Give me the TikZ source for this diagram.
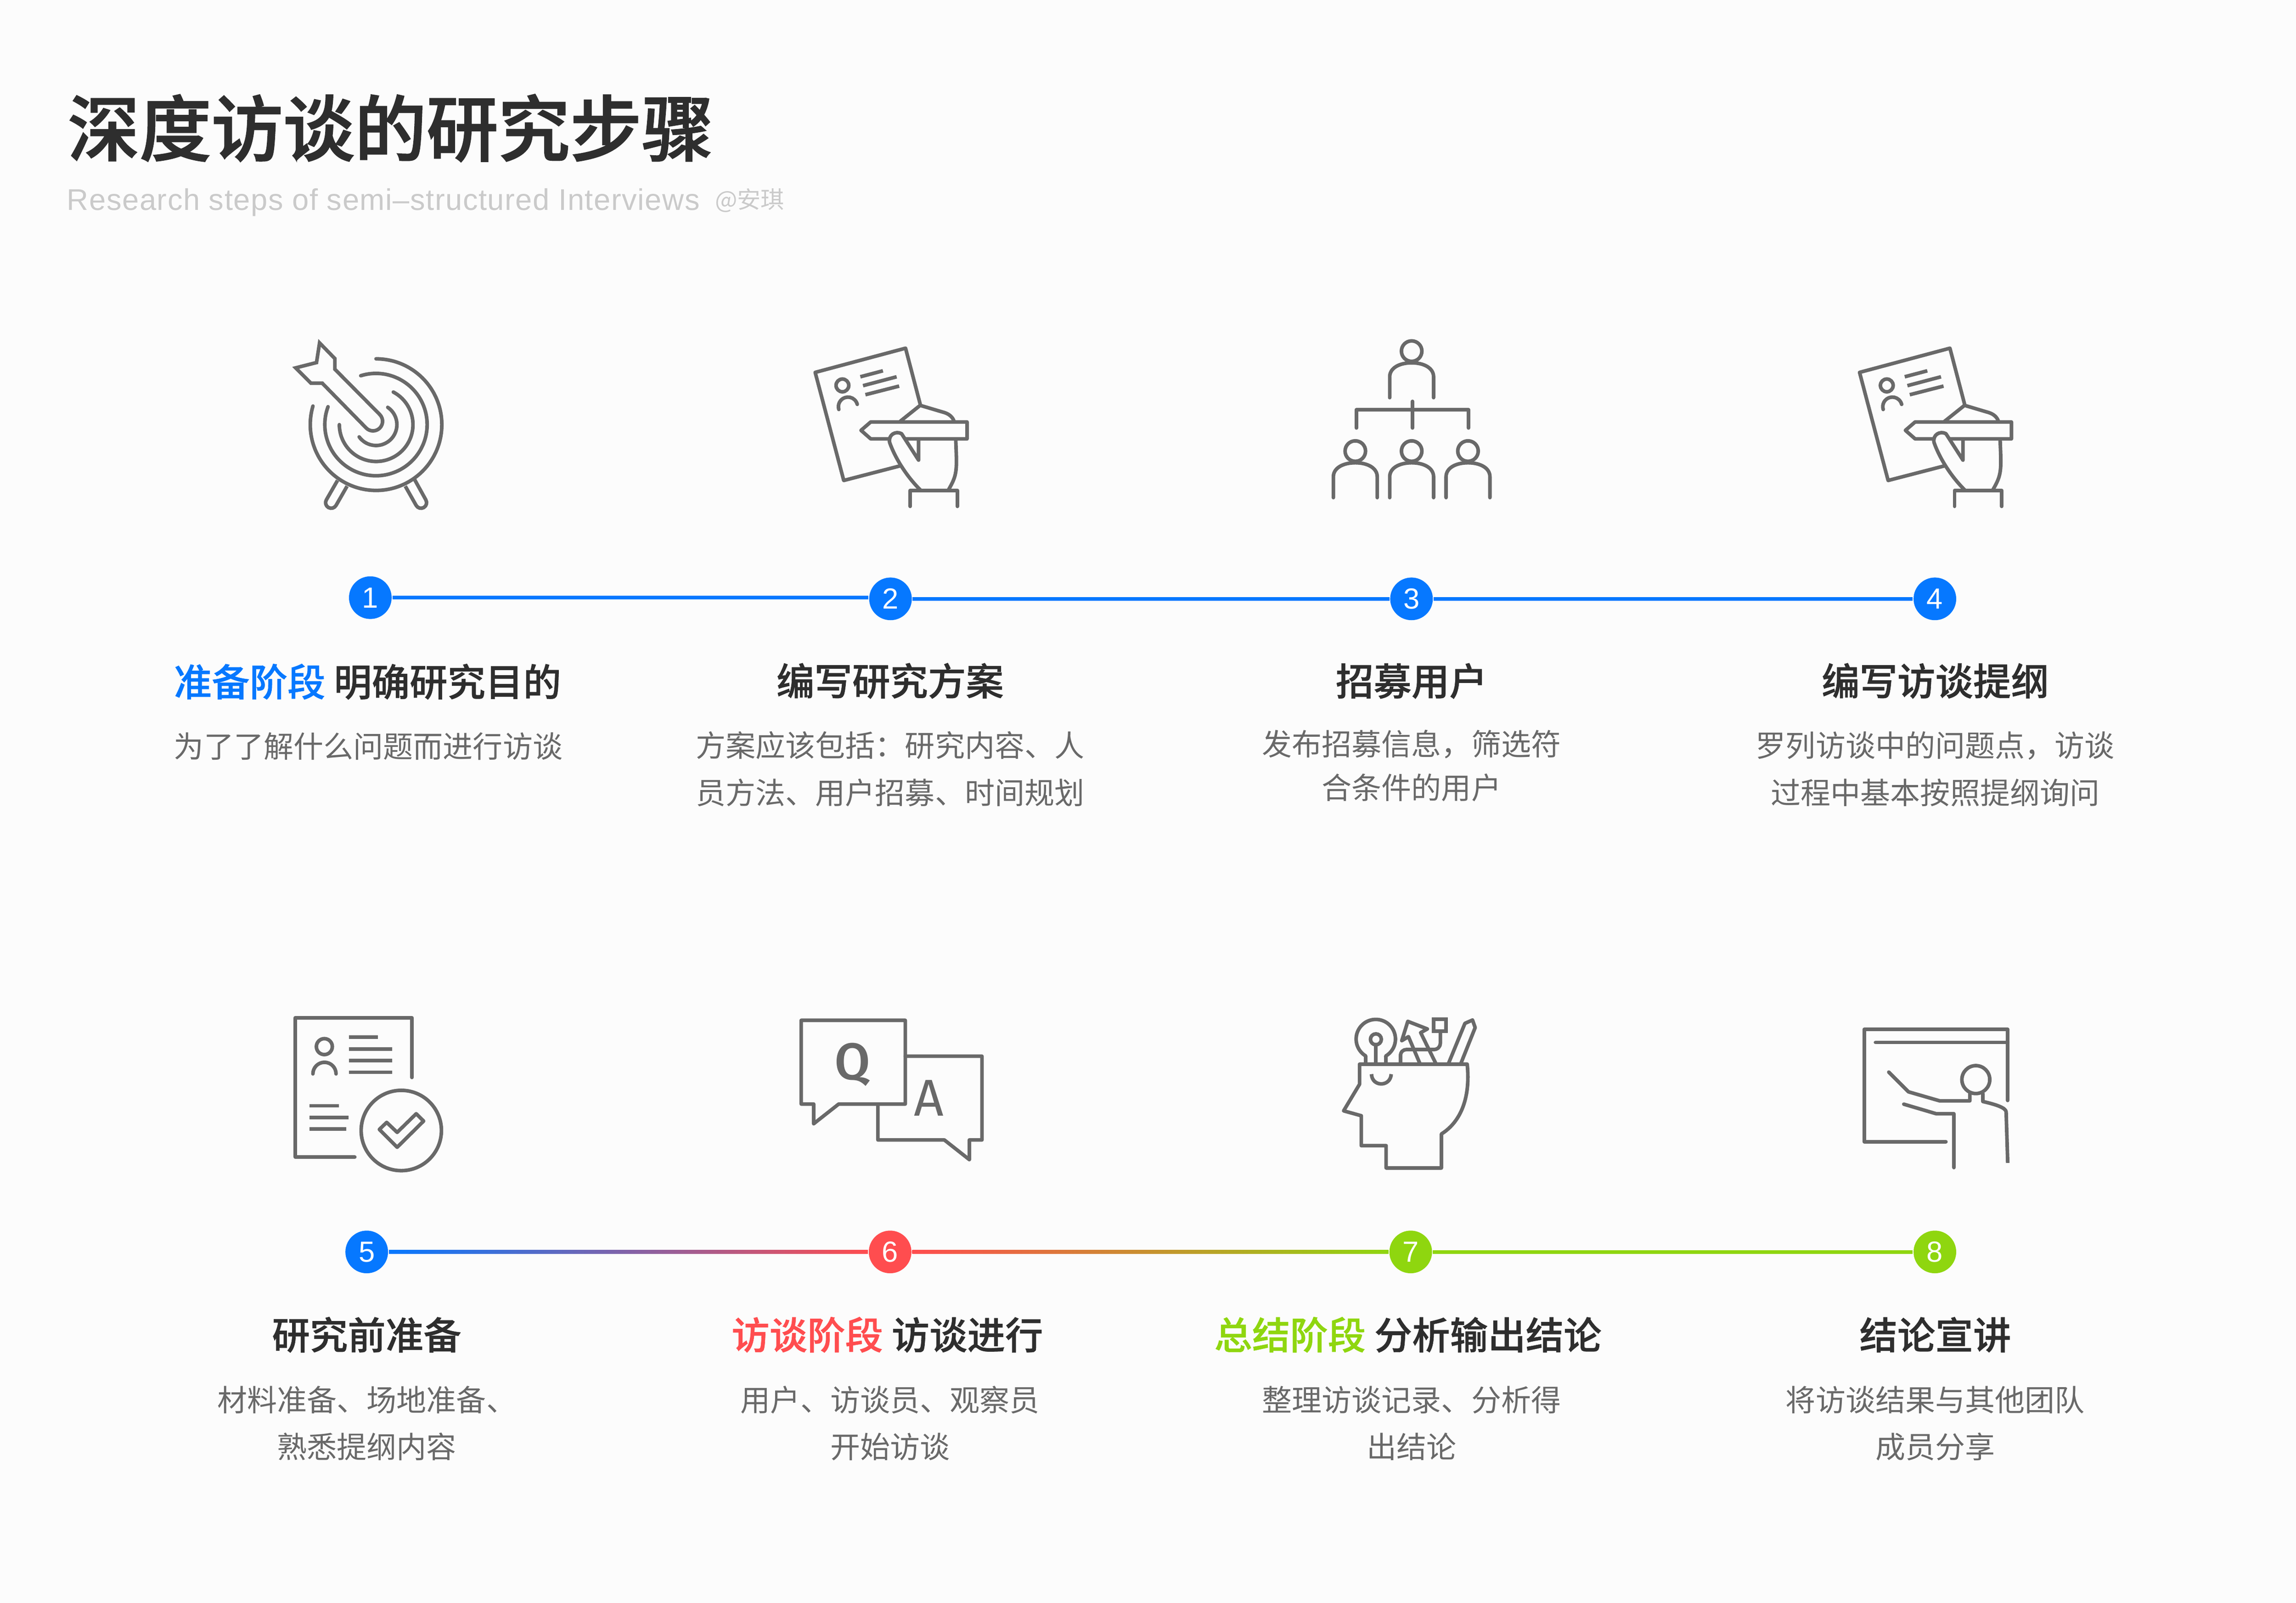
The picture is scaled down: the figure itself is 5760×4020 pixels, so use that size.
\documentclass[tikz,border=0pt]{standalone}
\usepackage{fontspec}
\usetikzlibrary{calc}
\setmainfont{Noto Sans CJK SC}
\newfontfamily\titlef{Noto Sans CJK SC Medium}[FakeBold=1.5]
\newfontfamily\headf{Noto Sans CJK SC Medium}[FakeBold=0.8]
\newfontfamily\numf{Liberation Sans}
\newfontfamily\subf{Liberation Sans}[LetterSpace=2.4]
\newfontfamily\qaf{Fira Sans Medium}
\newfontfamily\qafr{Fira Sans}
\newcommand{\fwcolon}{^^^^ff1a}
\newcommand{\fwcomma}{^^^^ff0c}
\definecolor{bgc}{HTML}{FCFCFC}
\definecolor{ink}{HTML}{696969}
\definecolor{dark}{HTML}{2E2E2E}
\definecolor{pale}{HTML}{CACACA}
\definecolor{acblue}{HTML}{0678FF}
\definecolor{acred}{HTML}{FF4D4F}
\definecolor{acgreen}{HTML}{8FD60F}
\tikzset{
  icon/.style={draw=ink,line width=.9pt,line join=round,line cap=round},
  bar/.style={draw=ink,line width=.9pt,line cap=butt},
  dot/.style={circle,inner sep=0pt,minimum size=10.7pt,text=white,font=\numf\fontsize{7.3}{7.3}\selectfont},
  heading/.style={anchor=base,inner sep=0pt,text=dark,font=\headf\fontsize{9.5}{9.5}\selectfont},
  bodytext/.style={anchor=base,inner sep=0pt,text=ink,font=\fontsize{7.5}{7.5}\selectfont},
  zoomed/.style={x=0.033333pt,y=-0.033333pt}
}
\newcommand{\docicon}[2]{%
\begin{scope}[shift={(#1,#2)},zoomed]
  \draw[icon] (835,1045) -- (410,1155) -- (195,342) -- (875,160) -- (985,580);
  \draw[icon] (400,440) circle[radius=48];
  \draw[icon] (373,621) arc[start angle=163,end angle=346,radius=72];
  \draw[bar] (535,375) -- (705,330) (555,442) -- (808,375) (573,510) -- (827,445);
  \draw[icon] (835,710) -- (985,590) -- (1170,645) .. controls (1215,660) and (1235,690) .. (1240,712);
  \draw[icon] (540,778) -- (613,715) -- (1338,715) -- (1338,842) -- (613,842) -- cycle;
  \fill[bgc] (757,868) .. controls (745,810) and (800,780) .. (845,803) -- (885,860) -- cycle;
  \draw[icon] (985,1225) .. controls (870,1110) and (790,970) .. (755,868) .. controls (745,810) and (800,780) .. (845,803) -- (973,1002) -- (973,855);
  \draw[icon] (1253,855) .. controls (1262,1080) and (1265,1110) .. (1200,1222);
  \draw[icon] (910,1350) -- (910,1230) -- (1265,1230) -- (1265,1350);
\end{scope}}
\newcommand{\personicon}[2]{%
\begin{scope}[shift={(#1,#2)}]
  \draw[icon] (0,0) circle[radius=77];
  \draw[icon] (-165,350) -- (-165,193) .. controls (-165,128) and (-94,88) .. (0,88) .. controls (94,88) and (165,128) .. (165,193) -- (165,350);
\end{scope}}
\begin{document}
\begin{tikzpicture}[x=0.1pt,y=-0.1pt]
\useasboundingbox (0,0) rectangle (5760,4020);
\fill[bgc] (0,0) rectangle (5760,4020);
% title
\node[anchor=base west,inner sep=0pt,text=dark,font=\titlef\fontsize{18}{18}\selectfont] (title) at (168,390) {深度访谈的研究步骤};
\node[anchor=base west,inner sep=0pt,text=pale,font=\subf\fontsize{7.5}{8}\selectfont] (sub) at (166,527) {Research steps of semi–structured Interviews};
\node[anchor=base west,inner sep=0pt,text=pale,font=\fontsize{5.9}{6}\selectfont] (author) at (1792,522) {@安琪};
% timeline nodes
\node[dot,fill=acblue] (n1) at (929,1499) {1};
\node[dot,fill=acblue] (n2) at (2234,1502) {2};
\node[dot,fill=acblue] (n3) at (3541,1502) {3};
\node[dot,fill=acblue] (n4) at (4854,1502) {4};
\node[dot,fill=acblue] (n5) at (920,3140) {5};
\node[dot,fill=acred] (n6) at (2233,3140) {6};
\node[dot,fill=acgreen] (n7) at (3539,3140) {7};
\node[dot,fill=acgreen] (n8) at (4854,3140) {8};
\draw[acblue,line width=.9pt] (n1) -- (n1 -| n2.west);
\draw[acblue,line width=.9pt] (n2) -- (n3);
\draw[acblue,line width=.9pt] (n3) -- (n4);
\shade[left color=acblue,right color=acred] ($(n5.east)+(0,-4.5)$) rectangle ($(n6.west)+(0,4.5)$);
\shade[left color=acred,right color=acgreen] ($(n6.east)+(0,-4.5)$) rectangle ($(n7.west)+(0,4.5)$);
\draw[acgreen,line width=.9pt] (n7) -- (n8);
% labels row 1
\node[heading] (h1) at (922,1746) {{\color{acblue}准备阶段} 明确研究目的};
\node[heading] (h2) at (2233,1744) {编写研究方案};
\node[heading] (h3) at (3541,1744) {招募用户};
\node[heading] (h4) at (4855,1744) {编写访谈提纲};
\node[bodytext] (b1) at (924,1900) {为了了解什么问题而进行访谈};
\node[bodytext] (b2a) at (2233,1898) {方案应该包括\fwcolon 研究内容、人};
\node[bodytext] (b2b) at (2233,2016) {员方法、用户招募、时间规划};
\node[bodytext] (b3a) at (3541,1894) {发布招募信息\fwcomma 筛选符};
\node[bodytext] (b3b) at (3541,2004) {合条件的用户};
\node[bodytext] (b4a) at (4855,1898) {罗列访谈中的问题点\fwcomma 访谈};
\node[bodytext] (b4b) at (4855,2016) {过程中基本按照提纲询问};
% labels row 2
\node[heading] (h5) at (920,3384) {研究前准备};
\node[heading] (h6) at (2226,3384) {{\color{acred}访谈阶段} 访谈进行};
\node[heading] (h7) at (3532,3384) {{\color{acgreen}总结阶段} 分析输出结论};
\node[heading] (h8) at (4855,3384) {结论宣讲};
\node[bodytext] (b5a) at (920,3539) {材料准备、场地准备、};
\node[bodytext] (b5b) at (920,3657) {熟悉提纲内容};
\node[bodytext] (b6a) at (2233,3539) {用户、访谈员、观察员};
\node[bodytext] (b6b) at (2233,3657) {开始访谈};
\node[bodytext] (b7a) at (3541,3539) {整理访谈记录、分析得};
\node[bodytext] (b7b) at (3541,3657) {出结论};
\node[bodytext] (b8a) at (4855,3539) {将访谈结果与其他团队};
\node[bodytext] (b8b) at (4855,3657) {成员分享};
% target icon
\begin{scope}[shift={(660,800)},zoomed]
  \draw[icon] (850,300) arc[start angle=-90,end angle=196.4,radius=495];
  \draw[icon] (735,427) arc[start angle=-107.3,end angle=200.4,radius=385];
  \draw[icon] (980,550) arc[start angle=-62.2,end angle=180,radius=277];
  \draw[icon] (938,665) arc[start angle=-55.9,end angle=144,radius=157];
  \draw[icon,line join=miter] (425,180) -- (540,298) -- (540,378) -- (878,719) arc[start angle=-45,end angle=135,radius=72] -- (445,483) -- (360,483) -- (245,368) -- (402,328) -- cycle;
  \draw[icon,line cap=butt] (560,1215) -- (476,1361) arc[start angle=210,end angle=30,radius=42] -- (632,1258);
  \draw[icon,line cap=butt] (1070,1258) -- (1152,1403) arc[start angle=150,end angle=-30,radius=42] -- (1140,1208);
\end{scope}
% doc & pen icons
\docicon{1980}{820}
\docicon{4600}{820}
% organisation icon
\begin{scope}[shift={(3290,820)},zoomed]
  \personicon{754}{182}
  \personicon{330}{934}
  \personicon{754}{934}
  \personicon{1178}{934}
  \draw[icon] (338,760) -- (338,623) -- (1182,623) -- (1182,760);
  \draw[icon] (760,560) -- (760,760);
\end{scope}
% checklist icon
\begin{scope}[shift={(700,2500)},zoomed]
  \draw[icon] (1000,607) -- (1000,158) -- (122,158) -- (122,1206) -- (570,1206);
  \draw[icon] (341,375) circle[radius=60];
  \draw[icon] (255,580) arc[start angle=180,end angle=360,radius=87];
  \draw[bar] (525,304) -- (743,304) (525,392) -- (850,392) (525,480) -- (850,480) (525,568) -- (850,568);
  \draw[bar] (229,820) -- (449,820) (229,908) -- (524,908) (229,996) -- (505,996);
  \draw[icon] (920,1006) circle[radius=302];
  \draw[icon] (810,945) -- (889,1020) -- (1032,880) -- (1088,935) -- (889,1132) -- (755,998) -- cycle;
\end{scope}
% Q&A icon
\begin{scope}[shift={(1980,2520)},zoomed]
  \draw[icon] (90,117) -- (873,117) -- (873,747) -- (372,747) -- (184,895) -- (184,747) -- (90,747) -- cycle;
  \draw[icon] (873,387) -- (1450,387) -- (1450,1017) -- (1355,1017) -- (1355,1165) -- (1167,1017) -- (667,1017) -- (667,750);
  \node[anchor=base,inner sep=0pt,text=ink,font=\qaf\fontsize{13}{13}\selectfont] (q) at (475,562) {Q};
  \node[anchor=base,inner sep=0pt,text=ink,font=\qafr\fontsize{13}{13}\selectfont] (a) at (1050,835) {A};
\end{scope}
% head icon
\begin{scope}[shift={(3340,2520)},zoomed]
  \draw[icon] (1022,447) .. controls (1050,720) and (960,890) .. (828,972) -- (828,1228) -- (412,1228) -- (412,1060) -- (225,1060) -- (225,835) -- (92,798) -- (212,598) -- (212,447) -- cycle;
  \draw[icon,line cap=butt] (302,522) .. controls (305,620) and (445,620) .. (450,522);
  \draw[icon] (258,440) -- (258,385) arc[start angle=121,end angle=419.4,radius=148] -- (410,440);
  \draw[icon] (335,260) circle[radius=41];
  \draw[icon] (335,300) -- (335,440);
  \draw[icon] (665,440) -- (580,240) -- (530,270) -- (575,125) -- (722,182) -- (672,210) -- (785,440);
  \draw[icon] (520,440) -- (520,385) .. controls (520,355) and (540,337) .. (565,337) -- (770,337) .. controls (800,337) and (820,315) .. (820,290) -- (820,200);
  \draw[icon,line join=miter] (770,108) rectangle (863,198);
  \draw[icon] (882,440) -- (1005,140) -- (1062,115) -- (1082,172) -- (975,440);
\end{scope}
% presenter icon
\begin{scope}[shift={(4640,2540)},zoomed]
  \draw[icon] (725,970) -- (110,970) -- (110,125) -- (1190,125) -- (1190,660);
  \draw[icon] (195,223) -- (1190,223);
  \draw[icon] (950,503) circle[radius=105];
  \draw[icon] (295,447) -- (443,595) -- (678,663) -- (905,663) -- (905,610);
  \draw[icon,line cap=butt] (1003,605) -- (1003,668) .. controls (1100,690) and (1175,715) .. (1178,745) -- (1190,1130);
  \draw[icon] (408,688) -- (652,760) -- (785,760) -- (785,1165);
\end{scope}
\end{tikzpicture}
\end{document}
